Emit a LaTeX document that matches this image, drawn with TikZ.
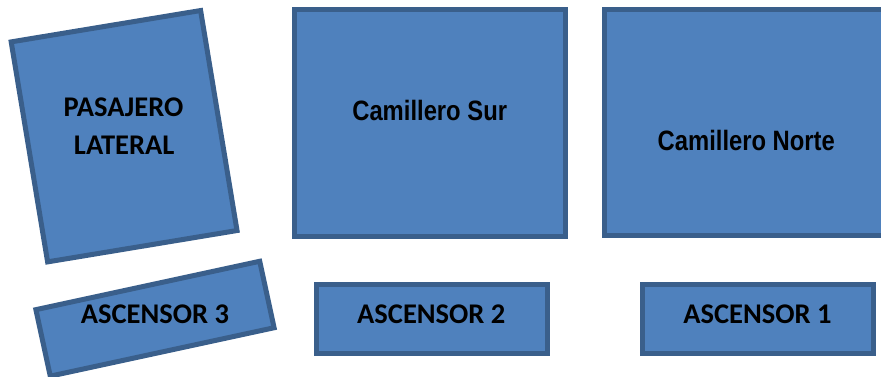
\documentclass[tikz,border=0pt]{standalone}
\usepackage{fontspec}
\newfontfamily\calib{Carlito}
\newfontfamily\narrowfont[FakeStretch=0.85]{Liberation Sans}
\definecolor{boxfill}{HTML}{4F81BD}
\definecolor{boxline}{HTML}{3A5F8B}
\tikzset{
  roombox/.style={rectangle, draw=boxline, fill=boxfill, line width=5pt, inner sep=0pt, outer sep=0pt},
  caplabel/.style={anchor=base, inner sep=0pt, font=\calib\bfseries\fontsize{28.5}{34}\selectfont},
  narrowlabel/.style={anchor=base, inner sep=0pt, font=\narrowfont\bfseries\fontsize{28}{34}\selectfont}
}
\begin{document}
\begin{tikzpicture}[x=1pt,y=-1pt]
\useasboundingbox (0,0) rectangle (881,376);
\fill[white] (0,0) rectangle (881,376);
% boxes
\node[roombox, minimum width=192pt, minimum height=223pt, rotate=9.4] (pas) at (124.1,136.2) {};
\node[roombox, minimum width=229pt, minimum height=68pt, rotate=12.2] (asc3) at (155,318.7) {};
\node[roombox, minimum width=271pt, minimum height=227pt] (csur) at (429.5,122.5) {};
\node[roombox, minimum width=300pt, minimum height=225.5pt] (cnor) at (754.5,122.25) {};
\node[roombox, minimum width=231pt, minimum height=69.5pt] (asc2) at (431.5,318.75) {};
\node[roombox, minimum width=231pt, minimum height=68.5pt] (asc1) at (758,318.75) {};
% labels
\node[caplabel] (pasA) at (123.5,116.7) {PASAJERO};
\node[caplabel] (pasB) at (124.2,154.3) {LATERAL};
\node[caplabel] (asc3t) at (155,323.3) {ASCENSOR 3};
\node[caplabel] (asc2t) at (431.3,323.3) {ASCENSOR 2};
\node[caplabel] (asc1t) at (757.5,323.3) {ASCENSOR 1};
\node[narrowlabel] (csurt) at (429.7,120) {Camillero Sur};
\node[narrowlabel] (cnort) at (746.3,150) {Camillero Norte};
\end{tikzpicture}
\end{document}
